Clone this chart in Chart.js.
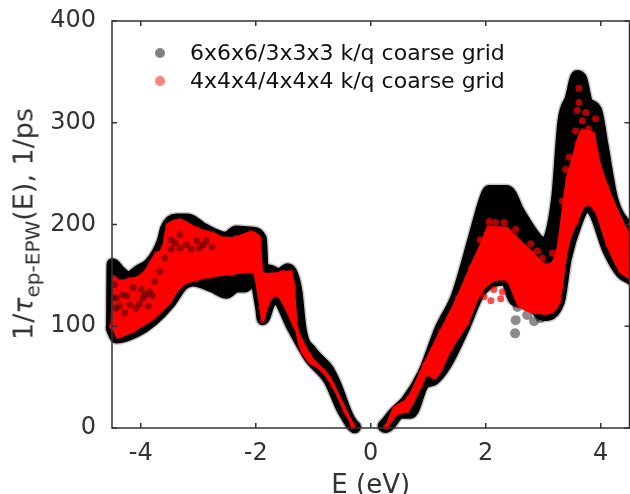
<!DOCTYPE html>
<html>
<head>
<meta charset="utf-8">
<title>Scattering rate</title>
<script src="https://cdn.jsdelivr.net/npm/chart.js@4"></script>
<style>
    html, body { margin: 0; padding: 0; background: #fff; overflow: hidden; }
    #wrap { position: relative; width: 630px; height: 494px; overflow: hidden; font-family: "DejaVu Sans", sans-serif; }
    #dataChart { position: absolute; left: 0; top: 0; }
    .legendRow { position: absolute; left: 190px; font-size: 22px; color: #111; white-space: nowrap; line-height: 24px; }
    .legendDot { position: absolute; left: 155px; width: 10px; height: 10px; border-radius: 50%; }
    #yTitle { position: absolute; left: 23px; top: 224px; font-size: 27px; color: #333; white-space: nowrap;
        transform: translate(-50%, -50%) rotate(-90deg); }
    #yTitle sub { font-size: 20px; vertical-align: -7px; line-height: 0; }
</style>
</head>
<body>
<div id="wrap">
    <canvas id="dataChart" width="635" height="494"></canvas>
    <div class="legendDot" style="top:48px;background:#808080"></div>
    <div class="legendRow" style="top:41px">6x6x6/3x3x3 k/q coarse grid</div>
    <div class="legendDot" style="top:76px;background:#ff8080"></div>
    <div class="legendRow" style="top:69px">4x4x4/4x4x4 k/q coarse grid</div>
    <div id="yTitle">1/<i>τ</i><sub>ep-EPW</sub>(E), 1/ps</div>
</div>
<script>
// Values: energies in eV, rates in 1/ps
const xTicks = [-4, -2, 0, 2, 4];
const yTicks = [0, 100, 200, 300, 400];

// 6x6x6/3x3x3 grid, edges of the cloud below the gap
const blackLeftTopE = [-4.5, -4.49, -4.37, -4.22, -4.02, -3.85, -3.7, -3.61, -3.56, -3.38, -3.18, -2.92, -2.51, -2.34, -2.05, -1.91, -1.88, -1.78, -1.59, -1.44, -1.36, -1.29, -1.22, -1.03, -0.74, -0.625, -0.34, -0.28];
const blackLeftTopVal = [100, 161, 154, 148, 155, 161, 173, 185, 196, 205, 205, 196, 187, 193, 192, 186, 155, 155, 151, 156, 150, 133, 97, 75, 57, 44, 4, 1];
const blackLeftLowE = [-4.5, -4.42, -4.08, -3.79, -3.5, -3.27, -3.09, -2.75, -2.51, -2.34, -2.2, -2.02, -1.9, -1.88, -1.76, -1.65, -1.36, -1.07, -0.72, -0.48, -0.3, -0.28];
const blackLeftLowVal = [97, 89, 95, 106, 123, 141, 145, 139, 133, 139, 139, 146, 116, 107, 123, 128, 99, 70, 47, 17, 2, 1];

// 6x6x6/3x3x3 grid, edges of the cloud above the gap
const blackRightTopE = [0.23, 0.4, 0.63, 0.92, 1.21, 1.5, 1.79, 1.97, 2.06, 2.37, 2.58, 2.92, 3.04, 3.24, 3.35, 3.48, 3.59, 3.66, 3.76, 3.92, 4.03, 4.2, 4.44, 4.6];
const blackRightTopVal = [2, 14, 27, 54, 97, 130, 186, 222, 233, 233, 212, 184, 182, 225, 301, 324, 346, 343, 320, 312, 278, 225, 199, 190];
const blackRightLowE = [0.23, 0.26, 0.52, 0.69, 0.91, 1.1, 1.31, 1.6, 1.89, 2.35, 2.5, 2.75, 3.01, 3.27, 3.39, 3.58, 3.74, 3.89, 4.13, 4.37, 4.54, 4.6];
const blackRightLowVal = [2, 1, 15, 15, 43, 48, 63, 96, 133, 146, 126, 123, 111, 124, 166, 202, 218, 212, 175, 152, 146, 142];

// 4x4x4/4x4x4 grid, edges of the cloud below the gap
const redLeftTopE = [-4.5, -4.47, -4.37, -4.19, -3.96, -3.73, -3.61, -3.53, -3.32, -3.03, -2.75, -2.51, -2.34, -2.08, -1.94, -1.89, -1.7, -1.53, -1.39, -1.35, -1.29, -1.18, -0.83, -0.66, -0.31];
const redLeftTopVal = [100, 148, 144, 146, 151, 171, 177, 199, 204, 196, 191, 186, 187, 192, 187, 151, 151, 153, 153, 141, 98, 75, 56, 42, 2];
const redLeftLowE = [-4.5, -4.47, -4.4, -4.13, -3.79, -3.5, -3.32, -3.03, -2.8, -2.4, -2.05, -1.91, -1.88, -1.8, -1.65, -1.33, -1.07, -0.72, -0.44, -0.31];
const redLeftLowVal = [100, 98, 90, 96, 108, 124, 139, 146, 149, 152, 154, 118, 106, 121, 131, 101, 72, 49, 16, 3];

// 4x4x4/4x4x4 grid, edges of the cloud above the gap
const redRightTopE = [0.27, 0.41, 0.65, 0.93, 1.22, 1.51, 1.74, 1.95, 2.05, 2.35, 2.5, 2.81, 3.04, 3.22, 3.42, 3.52, 3.59, 3.68, 3.87, 3.93, 4.11, 4.45, 4.6];
const redRightTopVal = [1, 19, 29, 62, 95, 128, 158, 184, 197, 196, 188, 172, 160, 168, 245, 265, 280, 292, 289, 270, 237, 194, 180];
const redRightLowE = [0.27, 0.48, 0.63, 0.87, 0.98, 1.1, 1.39, 1.68, 1.91, 2.29, 2.4, 2.58, 3.04, 3.27, 3.41, 3.58, 3.74, 3.89, 4.12, 4.35, 4.52, 4.6];
const redRightLowVal = [1, 15, 17, 42, 53, 50, 78, 104, 134, 147, 144, 121, 113, 124, 177, 203, 220, 216, 180, 154, 147, 143];

// Loose points
const darkSpotE = [-4.48, -4.43, -4.31, -4.19, -4.08, -3.96, -3.85, -3.76, -3.67, -3.58, -4.45, -4.28, -4.13, -3.99, -3.87, -3.47, -3.32, -3.32, -3.03, -2.86, -2.98, -3.21, -3.47, -4.37, -4.24, -4.02, -4.42, -3.92, -3.8, -3.4, -3.12, -2.92, -2.76];
const darkSpotVal = [128, 118, 131, 121, 118, 128, 134, 144, 154, 167, 141, 113, 138, 136, 120, 185, 190, 177, 184, 184, 177, 180, 176, 120, 130, 122, 128, 131, 130, 182, 176, 180, 178];
const greyOutlierE = [2.51, 2.52, 2.55, 2.72, 2.84, 2.95];
const greyOutlierVal = [93, 106, 119, 111, 105, 108];
const redSpeckE = [3.62, 3.62, 3.59, 3.74, 3.91, 3.68, 3.56, 3.45, 3.39, 3.79, 3.33, 2.06, 2.17, 2.32, 2.52, 2.78, 2.9, 2.98, 3.16, 1.9, 2.09, 2.26, 2.29, 2.14, 1.97];
const redSpeckVal = [334, 320, 312, 310, 304, 302, 292, 266, 254, 294, 223, 203, 202, 202, 195, 181, 174, 167, 172, 185, 125, 127, 134, 136, 129];

const BLACK = '#000000';
const BLACK_SOFT = 'rgba(0, 0, 0, 0.45)';
const BLACK_HALO = 'rgba(0, 0, 0, 0.22)';
const RED = '#ff0000';
const RED_SOFT = 'rgba(255, 0, 0, 0.5)';
const AXIS = '#333333';

function toPoints(xs, ys) {
    return xs.map((x, i) => ({ x: x, y: ys[i] }));
}

// One side of a filled cloud; the next dataset in the list is the other side
function edge(xs, ys, color, soft, width, radius, order, fillNext) {
    return {
        data: toPoints(xs, ys),
        borderColor: color,
        borderWidth: width,
        borderCapStyle: 'round',
        borderJoinStyle: 'round',
        backgroundColor: color,
        pointRadius: radius,
        pointBorderWidth: 0,
        pointBackgroundColor: soft,
        fill: fillNext ? '+1' : false,
        cubicInterpolationMode: 'monotone',
        clip: false,
        order: order,
    };
}

function spots(xs, ys, color, radius, order) {
    return {
        data: toPoints(xs, ys),
        showLine: false,
        pointRadius: radius,
        pointBorderWidth: 0,
        pointBackgroundColor: color,
        clip: false,
        order: order,
    };
}

// Inward ticks on all four sides and the axes box
const frame = {
    id: 'frame',
    afterDatasetsDraw(chart) {
        const { ctx, chartArea: a, scales } = chart;
        ctx.save();
        ctx.strokeStyle = AXIS;
        ctx.lineWidth = 1.5;
        ctx.strokeRect(a.left, a.top, a.right - a.left, a.bottom - a.top);
        ctx.beginPath();
        xTicks.forEach(v => {
            const px = scales.x.getPixelForValue(v);
            ctx.moveTo(px, a.bottom);
            ctx.lineTo(px, a.bottom - 5);
            ctx.moveTo(px, a.top);
            ctx.lineTo(px, a.top + 5);
        });
        yTicks.forEach(v => {
            const py = scales.y.getPixelForValue(v);
            ctx.moveTo(a.left, py);
            ctx.lineTo(a.left + 5, py);
            ctx.moveTo(a.right, py);
            ctx.lineTo(a.right - 5, py);
        });
        ctx.stroke();
        ctx.restore();
    },
};

new Chart(document.getElementById('dataChart'), {
    type: 'line',
    data: {
        datasets: [
            edge(blackLeftTopE, blackLeftTopVal, BLACK_HALO, BLACK_SOFT, 15, 0, 10, false),
            edge(blackLeftLowE, blackLeftLowVal, BLACK_HALO, BLACK_SOFT, 15, 0, 10, false),
            edge(blackRightTopE, blackRightTopVal, BLACK_HALO, BLACK_SOFT, 15, 0, 10, false),
            edge(blackRightLowE, blackRightLowVal, BLACK_HALO, BLACK_SOFT, 15, 0, 10, false),
            edge(blackLeftTopE, blackLeftTopVal, BLACK, BLACK_SOFT, 12, 5.5, 9, true),
            edge(blackLeftLowE, blackLeftLowVal, BLACK, BLACK_SOFT, 12, 5.5, 9, false),
            edge(blackRightTopE, blackRightTopVal, BLACK, BLACK_SOFT, 12, 5.5, 9, true),
            edge(blackRightLowE, blackRightLowVal, BLACK, BLACK_SOFT, 12, 5.5, 9, false),
            spots(greyOutlierE, greyOutlierVal, BLACK_SOFT, 5, 8),
            edge(redLeftTopE, redLeftTopVal, RED, RED_SOFT, 3, 3, 5, true),
            edge(redLeftLowE, redLeftLowVal, RED, RED_SOFT, 3, 3, 5, false),
            edge(redRightTopE, redRightTopVal, RED, RED_SOFT, 3, 3, 5, true),
            edge(redRightLowE, redRightLowVal, RED, RED_SOFT, 3, 3, 5, false),
            spots(darkSpotE, darkSpotVal, 'rgba(60, 0, 0, 0.5)', 3.5, 4),
            spots(redSpeckE, redSpeckVal, 'rgba(255, 0, 0, 0.7)', 3.5, 3),
        ],
    },
    plugins: [frame],
    options: {
        responsive: false,
        animation: false,
        layout: { padding: { top: 21, bottom: -2 } },
        plugins: { legend: { display: false }, tooltip: { enabled: false } },
        scales: {
            x: {
                type: 'linear',
                min: -4.5,
                max: 4.5,
                afterFit: s => { s.height = 68; s.paddingLeft = 0; s.paddingRight = 0; },
                afterBuildTicks: s => { s.ticks = xTicks.map(v => ({ value: v })); },
                grid: { display: false },
                border: { display: false },
                ticks: {
                    color: AXIS,
                    padding: 3,
                    maxRotation: 0,
                    font: { family: 'DejaVu Sans', size: 24 },
                },
                title: {
                    display: true,
                    text: 'E (eV)',
                    color: AXIS,
                    font: { family: 'DejaVu Sans', size: 26 },
                    padding: { top: 0, bottom: -6 },
                },
            },
            y: {
                min: 0,
                max: 400,
                afterFit: s => { s.width = 112; s.paddingTop = 0; s.paddingBottom = 0; },
                afterBuildTicks: s => { s.ticks = yTicks.map(v => ({ value: v })); },
                grid: { display: false },
                border: { display: false },
                ticks: {
                    color: AXIS,
                    padding: 8,
                    font: { family: 'DejaVu Sans', size: 24 },
                },
            },
        },
    },
});
</script>
</body>
</html>
